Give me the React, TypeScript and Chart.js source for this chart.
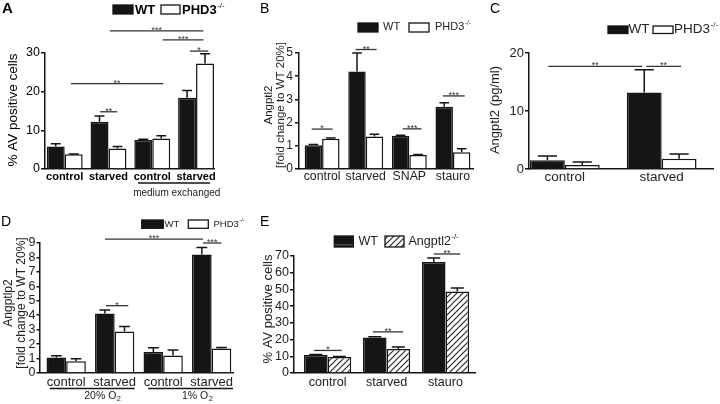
import React, { useEffect, useRef } from 'react';
import { Chart, registerables } from 'chart.js';

Chart.register(...registerables);

const FONT = '"Liberation Sans", Arial, Helvetica, sans-serif';
Chart.defaults.font.family = FONT;

// ---------------- DATA ----------------
// Panel A: % AV positive cells
const catsA = ['control', 'starved', 'control', 'starved'];
const wtA = [5.8, 12.2, 7.5, 18.4];
const wtAErr = [0.7, 1.5, 0.2, 1.9];
const phdA = [3.8, 5.3, 7.9, 27.3];
const phdAErr = [0.1, 0.5, 0.7, 2.5];

// Panel B: Angptl2 fold change
const catsB = ['control', 'starved', 'SNAP', 'stauro'];
const wtB = [1.02, 4.2, 1.43, 2.68];
const wtBErr = [0.04, 0.8, 0.03, 0.18];
const phdB = [1.3, 1.4, 0.6, 0.72];
const phdBErr = [0.04, 0.1, 0.03, 0.15];

// Panel C: Angptl2 (pg/ml)
const catsC = ['control', 'starved'];
const wtC = [1.5, 13.2];
const wtCErr = [0.75, 3.9];
const phdC = [0.7, 1.75];
const phdCErr = [0.5, 0.85];

// Panel D: Angptlp2 fold change
const catsD = ['control', 'starved', 'control', 'starved'];
const wtD = [1.08, 4.12, 1.45, 8.2];
const wtDErr = [0.12, 0.25, 0.3, 0.48];
const phdD = [0.82, 2.88, 1.22, 1.7];
const phdDErr = [0.16, 0.34, 0.38, 0.06];

// Panel E: % AV positive cells
const catsE = ['control', 'starved', 'stauro'];
const wtE = [10.7, 21.2, 66.4];
const wtEErr = [0.3, 0.5, 2.4];
const angE = [9.5, 14.3, 48.7];
const angEErr = [0.3, 1.3, 2.2];

// significance annotations (x in category units, y in data units)
const sigA = [
  { from: 0.81, to: 1.2, y: 14.8, label: '**' },
  { from: 0.14, to: 2.25, y: 22.1, label: '**' },
  { from: 2.86, to: 3.28, y: 30.5, label: '*' },
  { from: 2.24, to: 3.17, y: 33.4, label: '***' },
  { from: 1.03, to: 3.17, y: 35.7, label: '***' },
];
const sigB = [
  { from: -0.24, to: 0.24, y: 1.72, label: '*' },
  { from: 0.77, to: 1.25, y: 5.15, label: '**' },
  { from: 1.85, to: 2.28, y: 1.73, label: '***' },
  { from: 2.77, to: 3.27, y: 3.15, label: '***' },
];
const sigC = [
  { from: -0.17, to: 0.8, y: 17.7, label: '**' },
  { from: 0.84, to: 1.2, y: 17.7, label: '**' },
];
const sigD = [
  { from: 0.82, to: 1.28, y: 4.66, label: '*' },
  { from: 0.8, to: 2.82, y: 9.27, label: '***' },
  { from: 2.82, to: 3.2, y: 9.0, label: '***' },
];
const sigE = [
  { from: -0.23, to: 0.24, y: 13.5, label: '*' },
  { from: 0.77, to: 1.28, y: 24.6, label: '**' },
  { from: 1.8, to: 2.25, y: 71.2, label: '**' },
];

// ---------------- PANELS ----------------
type Series = { name: string; sup: string; values: number[]; errors: number[]; fill: string };

const panels: any[] = [
  {
    letter: 'A', letterPos: [2, 9], letterFont: 'bold 15px ' + FONT,
    box: { left: 45, right: 214, top: 53, bottom: 169 },
    xRange: [-0.45, 3.41], yMax: 30, yStep: 10, catPct: 0.82,
    tickFont: { size: 12.5 }, tickLen: 4, tickPad: 1, tickColor: '#000',
    cats: catsA, catY: 177, catFont: 'bold 11px ' + FONT, catColor: '#000',
    series: [
      { name: 'WT', sup: '', values: wtA, errors: wtAErr, fill: 'black' },
      { name: 'PHD3', sup: '-/-', values: phdA, errors: phdAErr, fill: 'white' },
    ],
    sigs: sigA,
    yTitle: { lines: ['% AV positive cells'], xs: [13], cy: 110, font: '13.5px ' + FONT, color: '#000' },
    legend: { font: 'bold 13px ', size: 13, cy: 10, color: '#000', items: [
      { box: [113, 5, 20, 9], textX: 135 },
      { box: [161, 5, 19, 9], textX: 182 },
    ] },
    groups: [{ from: 1.675, to: 3.32, lineY: 183, text: 'medium exchanged', sub: '', textAt: 2.56, textY: 193, font: '10px ' + FONT }],
  },
  {
    letter: 'B', letterPos: [260, 9], letterFont: '14px ' + FONT,
    box: { left: 299, right: 473, top: 53, bottom: 169 },
    xRange: [-0.53, 3.46], yMax: 5, yStep: 1, catPct: 0.8,
    tickFont: { size: 12 }, tickLen: 4, tickPad: 2, tickColor: '#222',
    cats: catsB, catY: 177, catFont: '12.3px ' + FONT, catColor: '#222',
    series: [
      { name: 'WT', sup: '', values: wtB, errors: wtBErr, fill: 'black' },
      { name: 'PHD3', sup: '-/-', values: phdB, errors: phdBErr, fill: 'white' },
    ],
    sigs: sigB,
    yTitle: { lines: ['Angptl2', '[fold change to WT 20%]'], xs: [268.5, 281], cy: 105, font: '11.5px ' + FONT, color: '#222' },
    legend: { font: '11px ', size: 11, cy: 27, color: '#222', items: [
      { box: [358, 23, 20, 9], textX: 383 },
      { box: [409, 23, 20, 9], textX: 435 },
    ] },
    groups: [],
  },
  {
    letter: 'C', letterPos: [490, 9], letterFont: '14px ' + FONT,
    box: { left: 529, right: 713, top: 53, bottom: 169 },
    xRange: [-0.37, 1.53], yMax: 20, yStep: 10, catPct: 0.72,
    tickFont: { size: 13 }, tickLen: 4, tickPad: 1, tickColor: '#222',
    cats: catsC, catY: 177, catFont: '13.5px ' + FONT, catColor: '#222',
    series: [
      { name: 'WT', sup: '', values: wtC, errors: wtCErr, fill: 'black' },
      { name: 'PHD3', sup: '-/-', values: phdC, errors: phdCErr, fill: 'white' },
    ],
    sigs: sigC,
    yTitle: { lines: ['Angptl2 (pg/ml)'], xs: [495], cy: 110, font: '13px ' + FONT, color: '#222' },
    legend: { font: '13.5px ', size: 13.5, cy: 29, color: '#222', items: [
      { box: [608, 26, 20, 7.5], textX: 628.5 },
      { box: [653, 26, 20, 7.5], textX: 674 },
    ] },
    groups: [],
  },
  {
    letter: 'D', letterPos: [1, 222], letterFont: '14px ' + FONT,
    box: { left: 40, right: 233, top: 243, bottom: 373 },
    xRange: [-0.54, 3.44], yMax: 9, yStep: 1, catPct: 0.81,
    tickFont: { size: 12.5 }, tickLen: 3.5, tickPad: 1, tickColor: '#222',
    cats: catsD, catY: 382, catFont: '13px ' + FONT, catColor: '#222',
    series: [
      { name: 'WT', sup: '', values: wtD, errors: wtDErr, fill: 'black' },
      { name: 'PHD3', sup: '-/-', values: phdD, errors: phdDErr, fill: 'white' },
    ],
    sigs: sigD,
    yTitle: { lines: ['Angptlp2', '[fold change to WT 20%]'], xs: [8.5, 21.5], cy: 303, font: '12px ' + FONT, color: '#222' },
    legend: { font: '9.5px ', size: 9.5, cy: 224, color: '#222', items: [
      { box: [141.7, 220, 21.6, 8.3], textX: 164.5 },
      { box: [188.3, 220, 20, 8.3], textX: 213.5 },
    ] },
    groups: [
      { from: -0.34, to: 1.41, lineY: 388.5, text: '20% O', sub: '2', textAt: 0.745, textY: 396, font: '10.5px ' + FONT },
      { from: 1.69, to: 3.44, lineY: 388.5, text: '1% O', sub: '2', textAt: 2.7, textY: 396, font: '10.5px ' + FONT },
    ],
  },
  {
    letter: 'E', letterPos: [260, 222], letterFont: '14px ' + FONT,
    box: { left: 294, right: 475, top: 256, bottom: 373 },
    xRange: [-0.57, 2.5], yMax: 70, yStep: 10, catPct: 0.8,
    tickFont: { size: 12.5 }, tickLen: 4, tickPad: 1, tickColor: '#222',
    cats: catsE, catY: 383, catFont: '12.6px ' + FONT, catColor: '#222',
    series: [
      { name: 'WT', sup: '', values: wtE, errors: wtEErr, fill: 'black' },
      { name: 'Angptl2', sup: '-/-', values: angE, errors: angEErr, fill: 'hatch' },
    ],
    sigs: sigE,
    yTitle: { lines: ['% AV positive cells'], xs: [268.5], cy: 309, font: '13px ' + FONT, color: '#222' },
    legend: { font: '12.5px ', size: 12.5, cy: 241.5, color: '#222', lineMark: true, items: [
      { box: [334.3, 236, 19, 11], textX: 358.5 },
      { box: [385, 236, 19, 11], textX: 408.5 },
    ] },
    groups: [],
  },
];

const INK = '#151515';

function makeHatch(): CanvasPattern | string {
  const c = document.createElement('canvas');
  c.width = 6; c.height = 6;
  const g = c.getContext('2d');
  if (!g) return '#fff';
  g.fillStyle = '#fff';
  g.fillRect(0, 0, 6, 6);
  g.strokeStyle = '#222';
  g.lineWidth = 1.1;
  g.beginPath();
  g.moveTo(0, 6); g.lineTo(6, 0);
  g.moveTo(-1, 1); g.lineTo(1, -1);
  g.moveTo(5, 7); g.lineTo(7, 5);
  g.stroke();
  return g.createPattern(c, 'repeat') || '#fff';
}

function fillFor(kind: string, hatch: any) {
  if (kind === 'black') return INK;
  if (kind === 'white') return '#fff';
  return hatch;
}

function makePlugin(p: any, hatch: any) {
  return {
    id: 'annot' + p.letter,
    afterDatasetsDraw(chart: any) {
      const ctx = chart.ctx;
      const ys = chart.scales.y;
      ctx.save();
      // error bars (upper only)
      p.series.forEach((s: Series, di: number) => {
        const meta = chart.getDatasetMeta(di);
        meta.data.forEach((el: any, i: number) => {
          const top = ys.getPixelForValue(s.values[i] + s.errors[i]);
          const x = el.x;
          const w = el.width * 0.55;
          ctx.strokeStyle = INK;
          ctx.lineWidth = 1.5;
          ctx.beginPath();
          ctx.moveTo(x, el.y);
          ctx.lineTo(x, top);
          ctx.moveTo(x - w / 2, top);
          ctx.lineTo(x + w / 2, top);
          ctx.stroke();
        });
      });
      ctx.restore();
    },
    afterDraw(chart: any) {
      const ctx = chart.ctx;
      const xs = chart.scales.x;
      const ys = chart.scales.y;
      ctx.save();
      // panel letter
      ctx.fillStyle = '#000';
      ctx.font = p.letterFont;
      ctx.textAlign = 'left';
      ctx.textBaseline = 'middle';
      ctx.fillText(p.letter, p.letterPos[0], p.letterPos[1]);
      // category labels
      ctx.fillStyle = p.catColor;
      ctx.font = p.catFont;
      ctx.textAlign = 'center';
      ctx.textBaseline = 'middle';
      p.cats.forEach((c: string, i: number) => {
        ctx.fillText(c, xs.getPixelForValue(i), p.catY);
      });
      // y title
      ctx.font = p.yTitle.font;
      ctx.fillStyle = p.yTitle.color;
      p.yTitle.lines.forEach((t: string, i: number) => {
        ctx.save();
        ctx.translate(p.yTitle.xs[i], p.yTitle.cy);
        ctx.rotate(-Math.PI / 2);
        ctx.textAlign = 'center';
        ctx.textBaseline = 'middle';
        ctx.fillText(t, 0, 0);
        ctx.restore();
      });
      // significance bars
      p.sigs.forEach((s: any) => {
        const x1 = xs.getPixelForValue(s.from);
        const x2 = xs.getPixelForValue(s.to);
        const y = ys.getPixelForValue(s.y);
        ctx.strokeStyle = '#333';
        ctx.lineWidth = 1.3;
        ctx.beginPath();
        ctx.moveTo(x1, y);
        ctx.lineTo(x2, y);
        ctx.stroke();
        ctx.fillStyle = '#333';
        ctx.font = '9px ' + FONT;
        ctx.textAlign = 'center';
        ctx.textBaseline = 'alphabetic';
        ctx.fillText(s.label, (x1 + x2) / 2, y + 2);
      });
      // group underlines
      p.groups.forEach((g: any) => {
        const x1 = xs.getPixelForValue(g.from);
        const x2 = xs.getPixelForValue(g.to);
        ctx.strokeStyle = INK;
        ctx.lineWidth = 1.3;
        ctx.beginPath();
        ctx.moveTo(x1, g.lineY);
        ctx.lineTo(x2, g.lineY);
        ctx.stroke();
        ctx.fillStyle = '#222';
        ctx.font = g.font;
        ctx.textBaseline = 'middle';
        const cx = xs.getPixelForValue(g.textAt);
        const w1 = ctx.measureText(g.text).width;
        let w2 = 0;
        const subSize = parseFloat(g.font) * 0.7;
        if (g.sub) {
          ctx.font = subSize + 'px ' + FONT;
          w2 = ctx.measureText(g.sub).width;
          ctx.font = g.font;
        }
        const start = cx - (w1 + w2) / 2;
        ctx.textAlign = 'left';
        ctx.fillText(g.text, start, g.textY);
        if (g.sub) {
          ctx.font = subSize + 'px ' + FONT;
          ctx.fillText(g.sub, start + w1 + 0.5, g.textY + 3);
        }
      });
      // legend
      p.legend.items.forEach((it: any, i: number) => {
        const s: Series = p.series[i];
        const [bx, by, bw, bh] = it.box;
        ctx.fillStyle = fillFor(s.fill, hatch);
        ctx.fillRect(bx, by, bw, bh);
        ctx.strokeStyle = INK;
        ctx.lineWidth = 1.3;
        ctx.strokeRect(bx, by, bw, bh);
        if (p.legend.lineMark && s.fill === 'black') {
          ctx.strokeStyle = '#777';
          ctx.lineWidth = 0.8;
          ctx.beginPath();
          ctx.moveTo(bx + 0.5, by + bh - 2.2);
          ctx.lineTo(bx + bw - 0.5, by + bh - 2.2);
          ctx.stroke();
        }
        ctx.fillStyle = p.legend.color;
        ctx.font = p.legend.font + FONT;
        ctx.textAlign = 'left';
        ctx.textBaseline = 'middle';
        ctx.fillText(s.name, it.textX, p.legend.cy);
        if (s.sup) {
          const w = ctx.measureText(s.name).width;
          ctx.font = (p.legend.size * 0.6) + 'px ' + FONT;
          ctx.fillText(s.sup, it.textX + w + 0.5, p.legend.cy - p.legend.size * 0.35);
        }
      });
      ctx.restore();
    },
  };
}

function buildConfig(p: any): any {
  const hatch = makeHatch();
  const datasets = p.series.map((s: Series) => ({
    label: s.name,
    data: s.values.map((v, i) => ({ x: i, y: v })),
    backgroundColor: fillFor(s.fill, hatch),
    borderColor: INK,
    borderWidth: 1.5,
    categoryPercentage: p.catPct,
    barPercentage: 1.0,
  }));
  return {
    type: 'bar',
    data: { datasets },
    options: {
      animation: false,
      responsive: false,
      devicePixelRatio: 1,
      events: [],
      layout: { padding: { left: 0, top: p.box.top, right: 720 - p.box.right, bottom: 404 - p.box.bottom } },
      plugins: { legend: { display: false }, tooltip: { enabled: false }, title: { display: false } },
      scales: {
        x: {
          type: 'linear',
          min: p.xRange[0],
          max: p.xRange[1],
          offset: false,
          grid: { display: false, drawTicks: false, tickLength: 0 },
          border: { display: true, color: INK, width: 1.5 },
          ticks: { display: false, stepSize: 1, includeBounds: false, autoSkip: false },
          afterFit: (s: any) => { s.height = 0; },
        },
        y: {
          type: 'linear',
          min: 0,
          max: p.yMax,
          grid: { display: true, drawOnChartArea: false, drawTicks: true, tickLength: p.tickLen, color: INK, lineWidth: 1.5 },
          border: { display: true, color: INK, width: 1.5 },
          ticks: { stepSize: p.yStep, autoSkip: false, padding: p.tickPad, color: p.tickColor, font: { family: FONT, ...p.tickFont } },
          afterFit: (s: any) => { s.width = p.box.left; },
        },
      },
    },
    plugins: [makePlugin(p, hatch)],
  };
}

function PanelChart({ panel }: { panel: any }) {
  const ref = useRef<HTMLCanvasElement>(null);
  useEffect(() => {
    if (!ref.current) return;
    const chart = new Chart(ref.current, buildConfig(panel));
    return () => chart.destroy();
  }, [panel]);
  return (
    <canvas
      ref={ref}
      width={720}
      height={404}
      style={{ position: 'absolute', left: 0, top: 0, width: 720, height: 404 }}
    />
  );
}

export default function App() {
  return (
    <div style={{ position: 'fixed', left: 0, top: 0, width: 720, height: 404, background: '#fff', overflow: 'hidden' }}>
      {panels.map((p) => (
        <PanelChart key={p.letter} panel={p} />
      ))}
    </div>
  );
}
